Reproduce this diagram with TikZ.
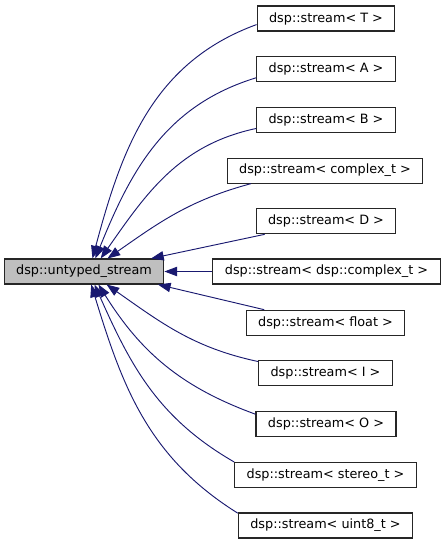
\documentclass[tikz,border=0pt]{standalone}
\usepackage{fontspec}
\setmainfont{DejaVu Sans}
\usetikzlibrary{arrows.meta}
\definecolor{edgeblue}{HTML}{191970}
\definecolor{basegray}{HTML}{BFBFBF}

\begin{document}
\begin{tikzpicture}[
  x=0.75pt, y=0.75pt,
  every node/.style={font=\fontsize{9.6}{11}\selectfont},
  cl/.style={rectangle,draw=black!85,line width=0.8pt,fill=white,inner xsep=9pt,inner ysep=0pt,minimum height=18.75pt},
  pc/.style={cl,fill=basegray},
  inh/.style={draw=edgeblue,line width=0.7pt,{Triangle[length=9.5pt,width=7pt]}-}
]
  \useasboundingbox (0,0) rectangle (445,-544);
  \node[pc] (root) at (84,-271.5) {dsp::untyped\_stream};
  \node[cl] (sT) at (326,-18.5) {dsp::stream< T >};
  \node[cl] (sA) at (326,-69.2) {dsp::stream< A >};
  \node[cl] (sB) at (326,-119.9) {dsp::stream< B >};
  \node[cl] (sCx) at (325,-170.6) {dsp::stream< complex\_t >};
  \node[cl] (sD) at (326,-221.3) {dsp::stream< D >};
  \node[cl] (sDcx) at (326.5,-271.5) {dsp::stream< dsp::complex\_t >};
  \node[cl] (sF) at (325.5,-322.7) {dsp::stream< float >};
  \node[cl] (sI) at (325.5,-373.4) {dsp::stream< I >};
  \node[cl] (sO) at (326,-424.1) {dsp::stream< O >};
  \node[cl] (sSt) at (325.5,-474.8) {dsp::stream< stereo\_t >};
  \node[cl] (sU8) at (325.5,-525.5) {dsp::stream< uint8\_t >};
  \draw[inh] (root.57) to[out=75,in=200] (sT.185);
  \draw[inh] (root.49) to[out=68,in=197] (sA.187);
  \draw[inh] (root.38) to[out=55,in=192] (sB.187);
  \draw[inh] (root.29) to[out=35,in=195] (sCx.190);
  \draw[inh] (root.11) -- (sD.192);
  \draw[inh] (root.east) -- (sDcx.west);
  \draw[inh] (root.-10) -- (sF.168);
  \draw[inh] (root.-30) to[out=-35,in=168] (sI.170);
  \draw[inh] (root.-42) to[out=-58,in=160] (sO.172);
  \draw[inh] (root.-51) to[out=-66,in=150] (sSt.172);
  \draw[inh] (root.-61) to[out=-73,in=148] (sU8.172);
\end{tikzpicture}
\end{document}
